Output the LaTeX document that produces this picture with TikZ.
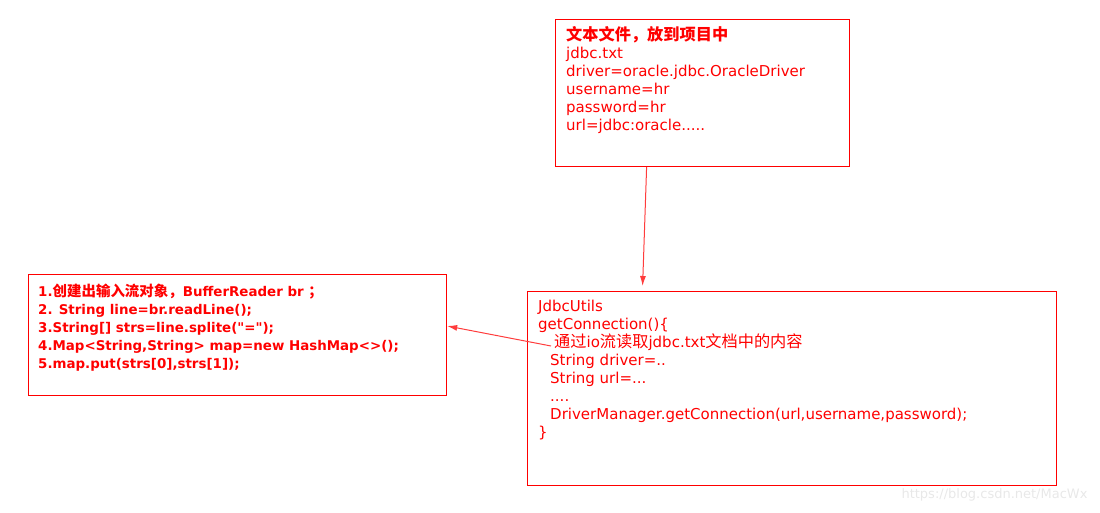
\documentclass[tikz,border=0pt]{standalone}
\usepackage{fontspec}
\setmainfont{DejaVu Sans}
\newfontfamily\plainf{DejaVu Sans}
\newfontfamily\cjk[Scale=1.08]{Noto Sans CJK SC}
\usetikzlibrary{arrows.meta}
\definecolor{rd}{RGB}{255,0,0}
\definecolor{arr}{RGB}{255,60,60}
\definecolor{wm}{RGB}{232,232,232}
\tikzset{
  box/.style={draw=rd, line width=1.2pt, minimum width=#1, inner sep=0pt},
  txt/.style={anchor=north west, inner sep=0pt, align=left, text=rd, font=\fontsize{15}{18}\selectfont},
  conn/.style={draw=arr, line width=1pt, -{Latex[length=10pt,width=6pt]}}
}
\begin{document}
\begin{tikzpicture}[x=1pt,y=-1pt]
\useasboundingbox (0,0) rectangle (1100,513);
\node[box=294pt, minimum height=147pt, anchor=north west] (top) at (555,19) {};
\node[box=418pt, minimum height=121pt, anchor=north west] (left) at (28,274) {};
\node[box=529pt, minimum height=194pt, anchor=north west] (right) at (527,291) {};
\node[txt] (ttop) at (566,26) {{\cjk\bfseries 文本文件，放到项目中}\\jdbc.txt\\driver=oracle.jdbc.OracleDriver\\username=hr\\password=hr\\url=jdbc:oracle.....};
\node[txt, font=\fontsize{13.4}{18}\selectfont\bfseries] (tleft) at (38,284) {1.{\cjk 创建出输入流对象，}BufferReader br {\cjk ；}\\2. String line=br.readLine();\\3.String[] strs=line.splite({\plainf\bfseries "="});\\4.Map<String,String> map=new HashMap<>();\\5.map.put(strs[0],strs[1]);};
\node[txt] (tright) at (538,300) {JdbcUtils\\getConnection()\{\\\hspace*{16pt}{\cjk 通过}io{\cjk 流读取}jdbc.txt{\cjk 文档中的内容}\\\hspace*{12pt}String driver=..\\\hspace*{12pt}String url=...\\\hspace*{12pt}....\\\hspace*{12pt}DriverManager.getConnection(url,username,password);\\\}};
\coordinate (s2) at (551,346);
\draw[conn] ([xshift=-56pt]top.south) -- ([xshift=-149.5pt,yshift=5pt]right.north);
\draw[conn] (s2) -- (left.east |- 0,326);
\node[text=wm, font=\fontsize{13}{15}\selectfont, anchor=east] (wmk) at (1091,495) {https://blog.csdn.net/MacWx};
\end{tikzpicture}
\end{document}
